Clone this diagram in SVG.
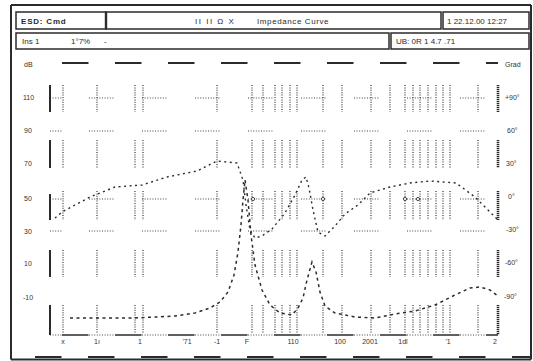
<svg xmlns="http://www.w3.org/2000/svg" width="533" height="361" viewBox="0 0 533 361">
<defs>
<style>
.frame{fill:none;stroke:#2b2b2b;stroke-width:2}
.box{fill:#fff;stroke:#2b2b2b;stroke-width:1.5}
.t{font-family:"Liberation Sans",Arial,sans-serif;font-size:8px;fill:#2b2b2b}
.lab{font-family:"Liberation Sans",Arial,sans-serif;font-size:7px;fill:#333}
.vd{fill:none;stroke:#444;stroke-width:1.3;stroke-dasharray:1 1.4}
.hd{fill:none;stroke:#444;stroke-width:1.2;stroke-dasharray:1 1.6}
.solid{fill:none;stroke:#2b2b2b;stroke-width:1.6}
.axisL{fill:none;stroke:#2b2b2b;stroke-width:2}
.axisR{fill:none;stroke:#2b2b2b;stroke-width:2.6;stroke-dasharray:1.2 0.8}
.imp{fill:none;stroke:#2b2b2b;stroke-width:1.5;stroke-dasharray:3 3.5}
.ph{fill:none;stroke:#2b2b2b;stroke-width:1.4;stroke-dasharray:2 3.5}
.mk{fill:#fff;stroke:#333;stroke-width:0.9}
</style>
</defs>
<rect width="533" height="361" fill="#fff"/>

<g id="frame">
<path class="frame" d="M11,5 H531 M11,5 V359.5 M531,5 V359.5 M11,359.5 H531"/>
<path d="M35,357 H530" fill="none" stroke="#2b2b2b" stroke-width="2" stroke-dasharray="26.5 26.5"/>
</g>

<g id="header-left">
<rect class="box" x="16" y="12" width="90" height="17"/>
<text class="t" x="21" y="24" font-weight="bold" letter-spacing="0.8">ESD: Cmd</text>
</g>
<g id="header-title">
<rect class="box" x="106" y="12" width="335" height="17"/>
<line x1="106" y1="12" x2="106" y2="29" stroke="#2b2b2b" stroke-width="2.4"/>
<text class="t" x="195" y="24" letter-spacing="1.5">II II Ω X</text>
<text class="t" x="257" y="24" letter-spacing="0.6">Impedance Curve</text>
</g>
<g id="header-date">
<rect class="box" x="443" y="12" width="86" height="17"/>
<text class="t" x="447" y="24">1 22.12.00  12:27</text>
</g>
<g id="info-left">
<rect class="box" x="16" y="33" width="373" height="16"/>
<text class="t" x="22" y="44" font-size="7">Ins 1</text>
<text class="t" x="71" y="44" font-size="7">1°7%</text>
<text class="t" x="104" y="44" font-size="7">-</text>
</g>
<g id="info-right">
<rect class="box" x="391" y="33" width="138" height="16"/>
<text class="t" x="396" y="44" font-size="7">UB: 0R 1 4.7  .71</text>
</g>

<g id="grid">
<!-- top dashes -->
<path d="M62,63 H498" fill="none" stroke="#2b2b2b" stroke-width="1.8" stroke-dasharray="26.5 26.5"/>
<!-- horizontal dotted gridlines -->
<path class="hd" d="M50,98h12 M89,98h26 M142,98h26 M195,98h26 M248,98h26 M301,98h26 M354,98h26 M407,98h26 M460,98h26
M50,131h12 M89,131h26 M142,131h26 M195,131h26 M248,131h26 M301,131h26 M354,131h26 M407,131h26 M460,131h26
M50,199h12 M89,199h26 M142,199h26 M195,199h26 M248,199h26 M301,199h26 M354,199h26 M407,199h26 M460,199h26
M50,231h12 M89,231h26 M142,231h26 M195,231h26 M248,231h26 M301,231h26 M354,231h26 M407,231h26 M460,231h26
M50,335h12 M89,335h26 M142,335h26 M195,335h26 M248,335h26 M301,335h26 M354,335h26 M407,335h26 M460,335h26"/>
<!-- x axis solid segments -->
<path d="M62,335 H498" fill="none" stroke="#2b2b2b" stroke-width="1.6" stroke-dasharray="26.5 26.5"/>
<!-- vertical dotted bands -->
<path class="vd" d="M63,85V112 M97,85V112 M135,85V112 M143,85V112 M217,85V112 M252,85V112 M263,85V112 M275,85V112 M282,85V112 M290,85V112 M297,85V112 M323,85V112 M342,85V112 M371,85V112 M390,85V112 M405,85V112 M413,85V112 M420,85V112 M428,85V112 M436,85V112 M443,85V112 M450,85V112 M478,85V112
M63,140V168 M97,140V168 M135,140V168 M143,140V168 M217,140V168 M252,140V168 M263,140V168 M275,140V168 M282,140V168 M290,140V168 M297,140V168 M323,140V168 M342,140V168 M371,140V168 M390,140V168 M405,140V168 M413,140V168 M420,140V168 M428,140V168 M436,140V168 M443,140V168 M450,140V168 M478,140V168
M63,191V220 M97,191V220 M135,191V220 M143,191V220 M217,191V220 M252,191V220 M263,191V220 M275,191V220 M282,191V220 M290,191V220 M297,191V220 M323,191V220 M342,191V220 M371,191V220 M390,191V220 M405,191V220 M413,191V220 M420,191V220 M428,191V220 M436,191V220 M443,191V220 M450,191V220 M478,191V220
M63,250V277 M97,250V277 M135,250V277 M143,250V277 M217,250V277 M252,250V277 M263,250V277 M275,250V277 M282,250V277 M290,250V277 M297,250V277 M323,250V277 M342,250V277 M371,250V277 M390,250V277 M405,250V277 M413,250V277 M420,250V277 M428,250V277 M436,250V277 M443,250V277 M450,250V277 M478,250V277
M63,305V333 M97,305V333 M135,305V333 M143,305V333 M217,305V333 M252,305V333 M263,305V333 M275,305V333 M282,305V333 M290,305V333 M297,305V333 M323,305V333 M342,305V333 M371,305V333 M390,305V333 M405,305V333 M413,305V333 M420,305V333 M428,305V333 M436,305V333 M443,305V333 M450,305V333 M478,305V333"/>
<!-- left axis -->
<path class="axisL" d="M50,85V112 M50,140V168 M50,194V220 M50,250V277 M50,305V335"/>
<!-- right axis -->
<path class="axisR" d="M498,85V112 M498,140V168 M498,191V220 M498,250V277 M498,305V335"/>
<circle class="mk" cx="253" cy="199" r="1.6"/>
<circle class="mk" cx="323" cy="199" r="1.6"/>
<circle class="mk" cx="405" cy="199" r="1.6"/>
<circle class="mk" cx="418" cy="199" r="1.6"/>
</g>

<g id="labels-left">
<text class="lab" x="24" y="67">dB</text>
<text class="lab" x="23" y="100">110</text>
<text class="lab" x="24" y="133">90</text>
<text class="lab" x="24" y="166">70</text>
<text class="lab" x="24" y="201">50</text>
<text class="lab" x="24" y="234">30</text>
<text class="lab" x="24" y="266">10</text>
<text class="lab" x="23" y="300">-10</text>
</g>
<g id="labels-right">
<text class="lab" x="505" y="67">Grad</text>
<text class="lab" x="505" y="100">+90°</text>
<text class="lab" x="507" y="133">60°</text>
<text class="lab" x="506" y="166">30°</text>
<text class="lab" x="508" y="199">0°</text>
<text class="lab" x="506" y="232">-30°</text>
<text class="lab" x="505" y="265">-60°</text>
<text class="lab" x="504" y="299">-90°</text>
</g>
<g id="labels-bottom" text-anchor="middle">
<text class="lab" x="63" y="344">x</text>
<text class="lab" x="97" y="344">1ı</text>
<text class="lab" x="140" y="344">1</text>
<text class="lab" x="187" y="344">'71</text>
<text class="lab" x="217" y="344">-1</text>
<text class="lab" x="247" y="344">F</text>
<text class="lab" x="293" y="344">110</text>
<text class="lab" x="340" y="344">100</text>
<text class="lab" x="370" y="344">2001</text>
<text class="lab" x="403" y="344">1dl</text>
<text class="lab" x="448" y="344">'1</text>
<text class="lab" x="495" y="344">2</text>
</g>

<g id="connectors">
<path id="impedance" class="imp" d="M70,318 L135,318 L175,316 L195,313 L210,308 L220,302 L228,292 L234,275 L238,252 L241,225 L243,200 L245,180 L248,200 L251,235 L255,265 L262,290 L270,305 L280,313 L292,315 L298,308 L303,298 L307,280 L312,262 L316,272 L320,292 L325,306 L335,313 L355,317 L375,318 L395,314 L415,311 L435,305 L455,295 L470,288 L480,287 L490,290 L498,296"/>
<path id="phase" class="ph" d="M55,218 L62,212 L75,205 L90,197 L115,187 L142,185 L167,177 L197,171 L217,161 L237,163 L243,180 L246,205 L250,230 L255,238 L262,236 L272,229 L285,213 L295,195 L302,180 L306,177 L309,188 L313,210 L318,232 L325,236 L335,226 L345,214 L358,205 L370,193 L390,187 L410,183 L430,181 L456,183 L475,197 L485,207 L497,219"/>
</g>
</svg>
